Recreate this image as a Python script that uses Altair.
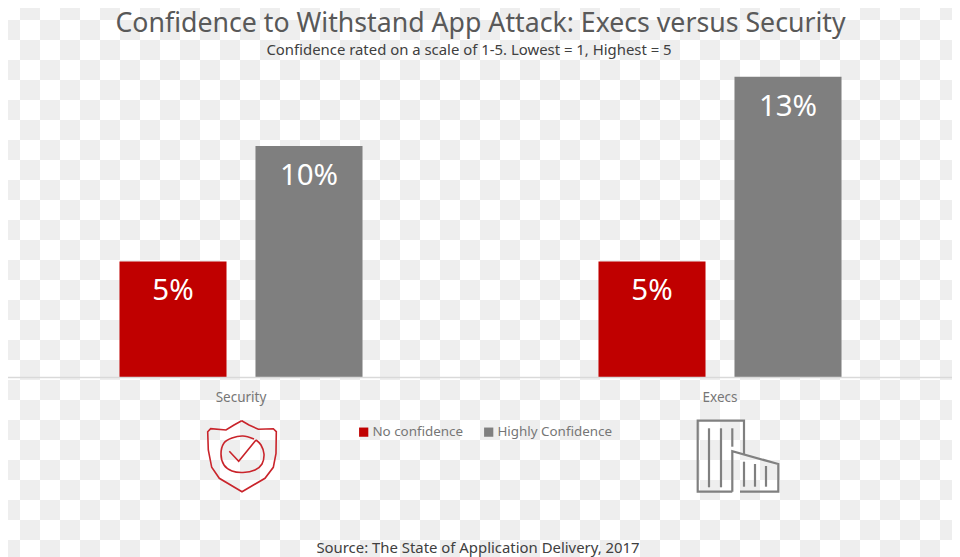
import altair as alt
import pandas as pd

TITLE = "Confidence to Withstand App Attack: Execs versus Security"
SUBTITLE = "Confidence rated on a scale of 1-5. Lowest = 1, Highest = 5"
SOURCE = "Source: The State of Application Delivery, 2017"
FONT = "Noto Sans"

groups = ["Security", "Security", "Execs", "Execs"]
series = ["No confidence", "Highly Confidence", "No confidence", "Highly Confidence"]
values = [5, 10, 5, 13]
labels = ["5%", "10%", "5%", "13%"]

shield_x = [241.7, 234, 226, 210.7, 207.7, 208.3, 211.7, 219.3, 242, 265, 273.3, 276, 276.3, 273.3, 258.3, 249, 241.7]
shield_y = [420.7, 425, 430, 428.7, 431.7, 450, 467.3, 478.3, 491.7, 478.3, 467.3, 453.3, 431.7, 428.7, 429.3, 425, 420.7]
check_x = [229.3, 238.7, 256]
check_y = [451.3, 461.3, 440]
ring_x = [254, 243, 232, 224, 221, 224, 232, 243, 255, 262, 264, 261, 256]
ring_y = [439, 436, 438, 443, 454, 465, 471, 472.5, 470, 464, 454, 445, 440]

building_paths = [
    ([732.3, 697.7, 697.7, 744, 744], [491.7, 491.7, 420.7, 420.7, 454]),
    ([732.3, 732.3, 778.3, 778.3, 740], [491.7, 451.3, 464, 491.7, 491.7]),
    ([709, 709], [428.3, 487.3]),
    ([721, 721], [428.3, 487.3]),
    ([732.3, 732.3], [428.3, 446.7]),
    ([744, 744], [461.7, 486.7]),
    ([755, 755], [464, 486.7]),
    ([766, 766], [466, 486.7]),
]

checker_cols = list(range(0, 48))
checker_rows = list(range(0, 28))

cells = pd.DataFrame(
    [{"col": c, "col2": c + 1, "row": r, "row2": r + 1}
     for c in checker_cols for r in checker_rows if (c + r) % 2 == 1]
)
bars_df = pd.DataFrame({"group": groups, "series": series, "value": values, "label": labels})

# page-pixel scales (the page margin is 8px)
W, H = 944, 549
PX = alt.Scale(domain=[8, 8 + W], range=[0, W], nice=False, zero=False)
PY = alt.Scale(domain=[8, 8 + H], range=[0, H], nice=False, zero=False)


def path_df(xs, ys, pid):
    return pd.DataFrame({"x": xs, "y": ys, "i": list(range(len(xs))), "p": pid})


def px_line(df, color, width, interpolate="linear"):
    return alt.Chart(df).mark_line(color=color, strokeWidth=width, interpolate=interpolate,
                                   clip=False).encode(
        x=alt.X("x:Q", scale=PX, axis=None),
        y=alt.Y("y:Q", scale=PY, axis=None),
        detail="p:N",
        order="i:Q",
    )


checker = alt.Chart(cells).mark_rect(color="#eeeeee", strokeWidth=0, clip=True).encode(
    x=alt.X("col:Q", scale=alt.Scale(domain=[0.4, 47.6], range=[0, W], nice=False, zero=False), axis=None),
    x2="col2:Q",
    y=alt.Y("row:Q", scale=alt.Scale(domain=[0.4, 27.85], range=[0, H], nice=False, zero=False), axis=None),
    y2="row2:Q",
)

x_enc = alt.X("group:N", sort=["Security", "Execs"], title=None,
              scale=alt.Scale(range=[-6.5, 951.5], paddingInner=0, paddingOuter=0),
              axis=alt.Axis(offset=-180, ticks=False, labelAngle=0, labelFont=FONT, labelFontSize=13.5,
                            labelColor="#767676", labelPadding=13, domainColor="#d9d9d9",
                            domainWidth=1.5, zindex=1, grid=False))
off_enc = alt.XOffset("series:N", sort=["No confidence", "Highly Confidence"],
                      scale=alt.Scale(paddingInner=0.213, paddingOuter=0.8675))
y_enc = alt.Y("value:Q", axis=None, scale=alt.Scale(domain=[-7.79, 15.97], nice=False, zero=False))

bars = alt.Chart(bars_df).mark_bar(strokeWidth=0).encode(
    x=x_enc,
    xOffset=off_enc,
    y=y_enc,
    color=alt.Color("series:N", sort=["No confidence", "Highly Confidence"],
                    scale=alt.Scale(domain=["No confidence", "Highly Confidence"],
                                    range=["#c00000", "#7f7f7f"]),
                    legend=alt.Legend(orient="none", legendX=349, legendY=417, direction="horizontal",
                                      columns=2, title=None, symbolType="square", symbolSize=85,
                                      symbolStrokeWidth=0, labelFont=FONT, labelFontSize=13.4,
                                      labelColor="#767676", columnPadding=18, labelOffset=2)),
)
bar_text = alt.Chart(bars_df).mark_text(font=FONT, fontSize=29.5, color="white", baseline="middle", dy=30).encode(
    x=x_enc, xOffset=off_enc, y=y_enc, text="label:N"
)

anchor = pd.DataFrame({"a": [0]})


def text(s, x, y, size, color):
    return alt.Chart(anchor).mark_text(font=FONT, fontSize=size, color=color, baseline="middle").encode(
        x=alt.value(x), y=alt.value(y), text=alt.value(s)
    )


subtitle = text(SUBTITLE, 461, 43, 14.9, "#404040")
source = text(SOURCE, 470, 541, 14.9, "#404040")

chart = alt.layer(
    checker,
    alt.layer(bars, bar_text),
    px_line(path_df(shield_x, shield_y, "s"), "#c9242b", 1.6),
    px_line(path_df(check_x, check_y, "c"), "#c9242b", 1.6),
    px_line(path_df(ring_x, ring_y, "r"), "#c9242b", 1.6, "cardinal"),
    px_line(pd.concat([path_df(xs, ys, f"b{n}") for n, (xs, ys) in enumerate(building_paths)]), "#808080", 2.2),
    subtitle,
    source,
).resolve_scale(x="independent", y="independent").properties(
    width=W,
    height=H,
    padding=0,
    autosize=alt.AutoSizeParams(type="none"),
    background="white",
    title=alt.TitleParams(TITLE, font=FONT, fontSize=26.7, fontWeight="normal", color="#595959",
                          anchor="middle", offset=-30, dx=0.5),
).configure_view(strokeWidth=0)

chart.save("out.html", embed_options={"renderer": "svg", "actions": False})
